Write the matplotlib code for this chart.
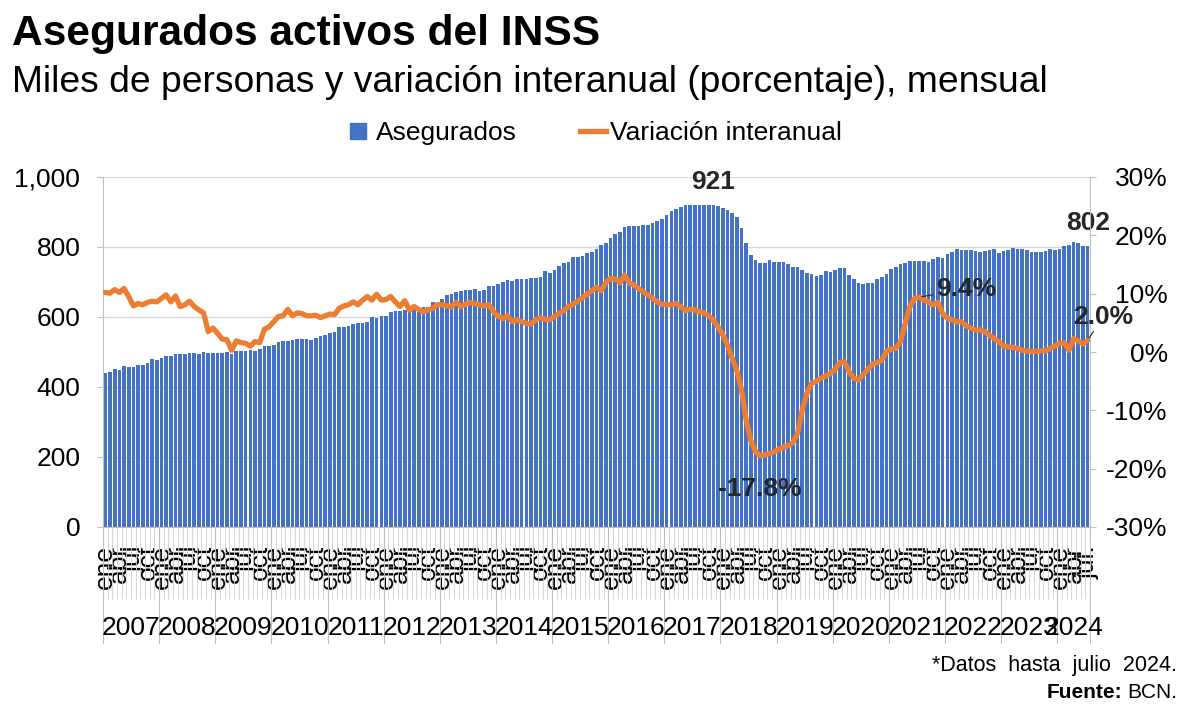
import matplotlib
matplotlib.use('Agg')
import matplotlib.pyplot as plt
import numpy as np
from matplotlib.lines import Line2D
from matplotlib.transforms import blended_transform_factory
from matplotlib.ticker import FuncFormatter

plt.rcParams['font.family'] = ['Liberation Sans', 'DejaVu Sans']

# ---------------- data ----------------
years = [str(y) for y in range(2007, 2025)]
month_labels = ['ene', 'abr', 'jul', 'oct']

aseg_2007 = [441, 444, 452, 449, 459, 457, 457, 463, 463, 469, 480, 477]
aseg_2008 = [483, 489, 489, 494, 494, 494, 497, 497, 494, 500, 497, 497]
aseg_2009 = [497, 497, 500, 494, 503, 503, 503, 506, 503, 509, 517, 517]
aseg_2010 = [520, 529, 532, 532, 534, 537, 537, 537, 534, 540, 546, 549]
aseg_2011 = [554, 557, 572, 572, 574, 581, 583, 583, 586, 600, 597, 603]
aseg_2012 = [603, 613, 617, 617, 620, 625, 629, 627, 629, 630, 642, 640]
aseg_2013 = [651, 662, 666, 672, 675, 676, 676, 679, 675, 677, 690, 688]
aseg_2014 = [693, 699, 706, 703, 710, 708, 708, 712, 711, 715, 732, 725]
aseg_2015 = [734, 745, 753, 756, 771, 771, 773, 782, 786, 795, 807, 812]
aseg_2016 = [825, 836, 843, 856, 859, 859, 860, 862, 863, 868, 874, 879]
aseg_2017 = [891, 903, 908, 915, 919, 920, 920, 920, 920, 920, 921, 917]
aseg_2018 = [912, 906, 897, 885, 854, 812, 778, 763, 755, 755, 763, 758]
aseg_2019 = [758, 757, 751, 744, 742, 734, 727, 722, 717, 720, 732, 729]
aseg_2020 = [734, 741, 739, 719, 708, 696, 694, 696, 696, 708, 713, 722]
aseg_2021 = [736, 744, 752, 754, 759, 759, 759, 759, 756, 765, 772, 770]
aseg_2022 = [780, 786, 793, 792, 792, 792, 788, 786, 790, 792, 793, 784]
aseg_2023 = [790, 792, 797, 795, 793, 792, 786, 786, 786, 789, 794, 791]
aseg_2024 = [795, 803, 805, 814, 811, 803, 802]

var_2007 = [10.2, 10.1, 10.7, 10.2, 10.9, 9.5, 7.9, 8.3, 8.1, 8.5, 8.7, 8.6]
var_2008 = [9.2, 9.8, 8.6, 9.6, 7.8, 8.1, 8.7, 7.8, 7.2, 6.7, 3.5, 4.1]
var_2009 = [3.2, 2.2, 2.1, 0.3, 1.9, 1.6, 1.5, 1.0, 1.8, 1.6, 3.9, 4.3]
var_2010 = [5.2, 6.1, 6.2, 7.3, 6.2, 6.7, 6.6, 6.2, 6.2, 6.3, 5.9, 6.2]
var_2011 = [6.5, 6.4, 7.5, 7.9, 8.1, 8.6, 8.1, 8.9, 9.5, 8.9, 9.9, 8.9]
var_2012 = [9.0, 9.5, 8.6, 7.8, 8.8, 7.2, 7.8, 7.3, 6.9, 7.2, 7.5, 8.1]
var_2013 = [8.1, 7.9, 7.8, 8.5, 7.8, 8.2, 8.5, 8.3, 8.1, 7.9, 8.1, 6.9]
var_2014 = [6.1, 5.7, 6.2, 5.2, 5.5, 5.2, 4.9, 4.8, 5.5, 5.9, 5.6, 5.5]
var_2015 = [6.1, 6.6, 7.1, 7.8, 8.2, 8.7, 9.3, 9.9, 10.5, 11.1, 10.5, 11.9]
var_2016 = [12.6, 12.5, 11.9, 13.2, 11.8, 11.5, 10.9, 10.3, 9.8, 9.2, 8.6, 8.2]
var_2017 = [8.1, 8.1, 8.3, 7.8, 7.1, 7.3, 7.2, 6.9, 6.7, 6.2, 5.4, 4.3]
var_2018 = [2.9, 1.2, -1.1, -3.1, -6.5, -11.7, -15.2, -17.1, -17.8, -17.6, -17.4, -17.1]
var_2019 = [-16.7, -16.3, -16.1, -15.5, -13.9, -9.9, -7.0, -5.4, -5.0, -4.5, -4.1, -3.7]
var_2020 = [-3.0, -1.8, -1.7, -3.4, -4.5, -4.8, -3.9, -3.0, -2.1, -1.8, -1.4, 0.1]
var_2021 = [0.5, 0.6, 1.8, 4.9, 7.8, 9.2, 9.4, 8.9, 8.5, 8.1, 8.5, 6.6]
var_2022 = [5.8, 5.5, 5.2, 5.2, 4.5, 4.1, 3.8, 3.8, 3.5, 2.9, 2.3, 1.8]
var_2023 = [1.0, 0.9, 0.8, 0.6, 0.3, 0.2, 0.1, 0.1, 0.2, 0.2, 0.6, 1.0]
var_2024 = [1.5, 1.6, 0.3, 2.3, 1.9, 1.4, 2.0]

asegurados = (aseg_2007 + aseg_2008 + aseg_2009 + aseg_2010 + aseg_2011 + aseg_2012
              + aseg_2013 + aseg_2014 + aseg_2015 + aseg_2016 + aseg_2017 + aseg_2018
              + aseg_2019 + aseg_2020 + aseg_2021 + aseg_2022 + aseg_2023 + aseg_2024)
variacion = (var_2007 + var_2008 + var_2009 + var_2010 + var_2011 + var_2012
             + var_2013 + var_2014 + var_2015 + var_2016 + var_2017 + var_2018
             + var_2019 + var_2020 + var_2021 + var_2022 + var_2023 + var_2024)

# ---------------- figure ----------------
W, H = 1187, 708
fig = plt.figure(figsize=(W / 100, H / 100), dpi=100)
ax = fig.add_axes([103 / W, 1 - 527 / H, 987 / W, 350 / H])

n = len(asegurados)
x = np.arange(n)
BLUE = '#4472C4'
ORANGE = '#ED7D31'
AXCOL = '#BFBFBF'
TXT = '#262626'

ax.bar(x, asegurados, width=0.78, color=BLUE, zorder=2)
ax.set_xlim(-0.5, n - 0.5)
ax.set_ylim(0, 1000)
yt = np.arange(0, 1001, 200)
ax.set_yticks(yt)
ax.yaxis.set_major_formatter(FuncFormatter(lambda v, p: f'{v:,.0f}'))
ax.grid(axis='y', color='#D9D9D9', lw=1, zorder=0)
ax.set_axisbelow(True)
ax.tick_params(axis='y', length=4.3, width=0.8, color=AXCOL, pad=12, labelsize=19)

# x axis: quarter labels + month separators
qpos = x[::3]
qlabels = [month_labels[(i % 12) // 3] for i in qpos]
qlabels[-1] = qlabels[-1] + '.'
ax.set_xticks(qpos)
ax.set_xticklabels(qlabels, rotation=90)
ax.tick_params(axis='x', which='major', length=0, pad=13, labelsize=19)
ax.set_xticks(np.arange(-0.5, n, 1), minor=True)
ax.tick_params(axis='x', which='minor', length=52, width=0.6, color='#D0D0D0')

tr = blended_transform_factory(ax.transData, ax.transAxes)
ystarts = list(range(0, n, 12))
for k, s in enumerate(ystarts):
    e = min(s + 12, n)
    ax.plot([s - 0.5, s - 0.5], [0, -0.331], transform=tr, color=AXCOL, lw=0.8, clip_on=False)
    ax.text((s + e - 1) / 2, -0.289, years[k], transform=tr, ha='center', va='center', fontsize=19)
ax.plot([n - 0.5, n - 0.5], [0, -0.331], transform=tr, color=AXCOL, lw=0.8, clip_on=False)

for sp in ['top', 'right']:
    ax.spines[sp].set_visible(False)
for sp in ['left', 'bottom']:
    ax.spines[sp].set_color(AXCOL)

# secondary axis
ax2 = ax.twinx()
ax2.plot(x, variacion, color=ORANGE, lw=3.8, solid_joinstyle='round', solid_capstyle='round', zorder=3)
ax2.set_ylim(-30, 30)
pt = np.arange(-30, 31, 10)
ax2.set_yticks(pt)
ax2.set_yticklabels([f'{v:.0f}%' for v in pt])
ax2.tick_params(axis='y', length=4, width=0.8, color=AXCOL, pad=52, labelsize=19)
for lbl in ax2.get_yticklabels():
    lbl.set_horizontalalignment('right')
for sp in ['top', 'left', 'bottom']:
    ax2.spines[sp].set_visible(False)
ax2.spines['right'].set_color(AXCOL)

# annotations
imax = int(np.argmax(asegurados))
ax.annotate(f'{asegurados[imax]:.0f}', (x[imax], asegurados[imax]), xytext=(0, 8),
            textcoords='offset points', ha='center', va='bottom', fontsize=19,
            fontweight='bold', color=TXT)
ax.annotate(f'{asegurados[-1]:.0f}', (x[-1], asegurados[-1]), xytext=(0, 8),
            textcoords='offset points', ha='center', va='bottom', fontsize=19,
            fontweight='bold', color=TXT)
imin = int(np.argmin(variacion))
ax2.annotate(f'{variacion[imin]:.1f}%', (x[imin], variacion[imin]), xytext=(0, -15),
             textcoords='offset points', ha='center', va='top', fontsize=19,
             fontweight='bold', color=TXT)
ipk = 168 + int(np.argmax(var_2021))
ax2.annotate(f'{variacion[ipk]:.1f}%', (x[ipk], variacion[ipk]), xytext=(12, 6),
             textcoords='offset points', ha='left', va='center', fontsize=19,
             fontweight='bold', color=TXT,
             arrowprops=dict(arrowstyle='-', color=TXT, lw=0.8, shrinkA=0, shrinkB=2))
ax2.annotate(f'{variacion[-1]:.1f}%', (x[-1], variacion[-1]), xytext=(11, 17),
             textcoords='offset points', ha='center', va='center', fontsize=19,
             fontweight='bold', color=TXT,
             arrowprops=dict(arrowstyle='-', color=TXT, lw=0.8, shrinkA=0, shrinkB=2))

# titles
fig.text(12 / W, 1 - 45 / H, 'Asegurados activos del INSS', fontsize=30.6,
         fontweight='bold', va='baseline', ha='left', color='black')
fig.text(12 / W, 1 - 92 / H, 'Miles de personas y variación interanual (porcentaje), mensual',
         fontsize=26.8, va='baseline', ha='left', color='black')

# legend
handles = [Line2D([], [], marker='s', color=BLUE, ls='none', markersize=11),
           Line2D([], [], color=ORANGE, lw=3.8)]
fig.legend(handles, ['Asegurados', 'Variación interanual'], loc='center',
           bbox_to_anchor=(0.5, 1 - 133 / H), ncol=2, frameon=False, fontsize=19,
           handlelength=1.0, handletextpad=0.15, columnspacing=2.4)

# footer
fig.text(1177 / W, 1 - 665 / H, '*Datos  hasta  julio  2024.', ha='right', va='center', fontsize=15.5)
t_src = fig.text(1177 / W, 1 - 692 / H, 'BCN.', ha='right', va='center', fontsize=15)
fig.canvas.draw()
bb = t_src.get_window_extent()
fig.text((bb.x0 - 5) / W, 1 - 692 / H, 'Fuente:', ha='right', va='center', fontsize=15,
         fontweight='bold')

fig.savefig('out.png', dpi=100)
